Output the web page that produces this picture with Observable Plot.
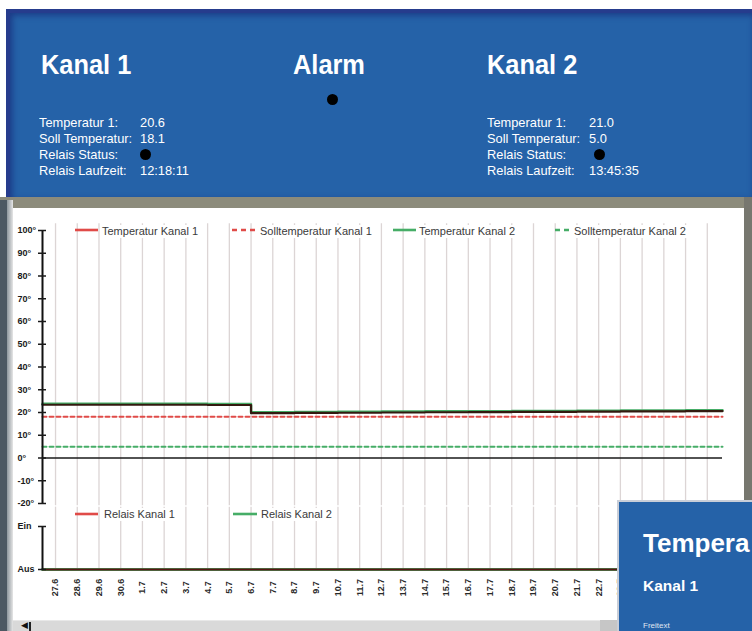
<!DOCTYPE html>
<html>
<head>
<meta charset="utf-8">
<script src="https://cdn.jsdelivr.net/npm/d3@7"></script>
<script src="https://cdn.jsdelivr.net/npm/@observablehq/plot@0.6"></script>
<style>
html, body { margin: 0; padding: 0; background: #fff; }
body { width: 752px; height: 631px; overflow: hidden; position: relative; font-family: "Liberation Sans", Arial, sans-serif; }
.abs { position: absolute; }
.hdr-title { position: absolute; color: #fff; font-weight: bold; font-size: 27px; line-height: 27px; transform: scaleX(0.94); transform-origin: left; white-space: nowrap; }
.hdr-row { position: absolute; color: #fff; font-size: 13.5px; line-height: 16px; transform: scaleX(0.95); transform-origin: left; white-space: nowrap; }
.dot { position: absolute; width: 11px; height: 11px; border-radius: 50%; background: #000; }
.leg-text { position: absolute; font-size: 11px; line-height: 13px; color: #3a3a3a; background: #fff; padding: 0 2px; white-space: nowrap; }
</style>
</head>
<body>
<script>
// ---------- data ----------
const dayLabels = ["27.6","28.6","29.6","30.6","1.7","2.7","3.7","4.7","5.7","6.7","7.7","8.7","9.7","10.7","11.7","12.7","13.7","14.7","15.7","16.7","17.7","18.7","19.7","20.7","21.7","22.7","23.7","24.7","25.7","26.7","27.7"];
const sampleTimes = [-0.6,0,1,2,3,4,5,6,7,8,9,10,11,12,13,14,15,16,17,18,19,20,21,22,23,24,25,26,27,28,29,30,30.7];
const tempKanal1 = [23.4,23.4,23.4,23.4,23.4,23.4,23.4,23.4,23.3,23.3,19.7,19.7,19.8,19.8,19.9,19.9,20.0,20.0,20.1,20.1,20.2,20.2,20.3,20.3,20.3,20.4,20.4,20.5,20.5,20.5,20.6,20.6,20.6];
const tempKanal2 = [23.8,23.8,23.8,23.8,23.8,23.8,23.8,23.8,23.7,23.7,20.1,20.1,20.2,20.2,20.3,20.3,20.4,20.4,20.5,20.5,20.6,20.6,20.7,20.7,20.7,20.8,20.8,20.9,20.9,20.9,21.0,21.0,21.0];
const sollTimes = [-0.6, 30.7];
const sollKanal1 = [18.1, 18.1];
const sollKanal2 = [5.0, 5.0];
const relaisTimes = [-0.6, 30.7];
const relaisKanal1 = [0, 0];
const relaisKanal2 = [0, 0];
const tempTicks = [100, 90, 80, 70, 60, 50, 40, 30, 20, 10, 0, -10, -20];
const relaisTicks = [0, 1];
const relaisTickLabels = ["Aus", "Ein"];
const headerTitles = ["Kanal 1", "Alarm", "Kanal 2"];
const headerLabels = ["Temperatur 1:", "Soll Temperatur:", "Relais Status:", "Relais Laufzeit:"];
const kanal1Values = ["20.6", "18.1", "", "12:18:11"];
const kanal2Values = ["21.0", "5.0", "", "13:45:35"];
const tempLegendLabels = ["Temperatur Kanal 1", "Solltemperatur Kanal 1", "Temperatur Kanal 2", "Solltemperatur Kanal 2"];
const relaisLegendLabels = ["Relais Kanal 1", "Relais Kanal 2"];
const overlayTexts = ["Tempera", "Kanal 1", "Freitext"];

// ---------- helpers ----------
const RED = "#e04b48", GREEN = "#46ad67", DARK = "#33190f";
function el(tag, cls, style, text) {
  const e = document.createElement(tag);
  if (cls) e.className = cls;
  Object.assign(e.style, style || {});
  if (text != null) e.textContent = text;
  document.body.appendChild(e);
  return e;
}
const tab = (ts, vs) => ts.map((t, i) => ({t, v: vs[i]}));

// ---------- background / frame ----------
el("div", "abs", {left: "6px", top: "9px", width: "746px", height: "189px", background: "#2562a8",
  borderLeft: "4px solid #263c8d", borderTop: "4px solid #263c8d", boxSizing: "border-box",
  boxShadow: "inset 2px 2px 6px rgba(20,30,110,0.6)"});
el("div", "abs", {left: "0px", top: "197px", width: "752px", height: "11px", background: "#8c8b7b"});
el("div", "abs", {left: "0px", top: "200px", width: "7px", height: "431px", background: "#4c5862"});
el("div", "abs", {left: "7px", top: "200px", width: "6px", height: "431px", background: "linear-gradient(to right,#8d969c,#e6e6e6)"});
el("div", "abs", {left: "744px", top: "197px", width: "8px", height: "434px", background: "#77776f"});
el("div", "abs", {left: "13px", top: "208px", width: "731px", height: "412px", background: "#fff"});

// ---------- header ----------
[41, 293, 487].forEach((x, i) => el("div", "hdr-title", {left: x + "px", top: "52px"}, headerTitles[i]));
el("div", "dot", {left: "327px", top: "94px"});
[[39, 140, kanal1Values, 139.5], [487, 589, kanal2Values, 594]].forEach(([lx, vx, vals, dx]) => {
  headerLabels.forEach((lab, r) => {
    const top = 114.8 + r * 16;
    el("div", "hdr-row", {left: lx + "px", top: top + "px"}, lab);
    if (vals[r]) el("div", "hdr-row", {left: vx + "px", top: top + "px"}, vals[r]);
  });
  el("div", "dot", {left: dx + "px", top: "148.5px"});
});

// ---------- charts ----------
const xDomain = [sampleTimes[0], sampleTimes[sampleTimes.length - 1]];
const dayIdx = dayLabels.map((d, i) => i);
const GRID = "#dcd5d5";

const topPlot = Plot.plot({
  width: 752, height: 300,
  marginLeft: 42, marginRight: 30, marginTop: 23, marginBottom: 4,
  style: {background: "transparent", overflow: "visible", fontFamily: "Liberation Sans, Arial, sans-serif"},
  x: {domain: xDomain, axis: null},
  y: {domain: [-20, 100]},
  marks: [
    Plot.ruleX(dayIdx, {x: d => d, y1: -21, y2: 103, stroke: GRID, strokeWidth: 1.3}),
    Plot.line(tab(sollTimes, sollKanal1), {x: "t", y: "v", stroke: RED, strokeWidth: 2, strokeDasharray: "4,3"}),
    Plot.line(tab(sollTimes, sollKanal2), {x: "t", y: "v", stroke: GREEN, strokeWidth: 2, strokeDasharray: "4,3"}),
    Plot.ruleY([0], {stroke: "#1a1a1a", strokeWidth: 1.5}),
    Plot.line(tab(sampleTimes, tempKanal2), {x: "t", y: "v", curve: "step-after", stroke: GREEN, strokeWidth: 2.5}),
    Plot.line(tab(sampleTimes, tempKanal1), {x: "t", y: "v", curve: "step-after", stroke: DARK, strokeWidth: 2.2}),
    Plot.ruleX([xDomain[0]], {y1: -20, y2: 100, stroke: "#111", strokeWidth: 2}),
    Plot.axisY({ticks: tempTicks, tickFormat: d => `${d}°`, tickSize: 8, dx: 4, tickPadding: 21, textAnchor: "start",
      fontSize: 9, fontWeight: "bold", color: "#1a1a1a", strokeWidth: 1.5, label: null})
  ]
});
Object.assign(topPlot.style, {position: "absolute", left: "0px", top: "207px"});
document.body.appendChild(topPlot);

const bottomPlot = Plot.plot({
  width: 752, height: 113,
  marginLeft: 42, marginRight: 30, marginTop: 19, marginBottom: 51,
  style: {background: "transparent", overflow: "visible", fontFamily: "Liberation Sans, Arial, sans-serif"},
  x: {domain: xDomain, axis: null},
  y: {domain: [0, 1]},
  marks: [
    Plot.ruleX(dayIdx, {x: d => d, y1: 0, y2: 1.45, stroke: GRID, strokeWidth: 1.3}),
    Plot.line(tab(relaisTimes, relaisKanal2), {x: "t", y: "v", curve: "step-after", stroke: GREEN, strokeWidth: 3}),
    Plot.line(tab(relaisTimes, relaisKanal1), {x: "t", y: "v", curve: "step-after", stroke: "#561612", strokeWidth: 2.2}),
    Plot.ruleX([xDomain[0]], {y1: 0, y2: 1, stroke: "#111", strokeWidth: 2}),
    Plot.axisY({ticks: relaisTicks, tickFormat: d => relaisTickLabels[d], tickSize: 8, dx: 4, tickPadding: 21, textAnchor: "start",
      fontSize: 9, fontWeight: "bold", color: "#1a1a1a", strokeWidth: 1.5, label: null}),
    Plot.text(dayIdx, {x: d => d, y: 0, text: d => dayLabels[d], rotate: -90, dy: 18, textAnchor: "middle", lineAnchor: "middle",
      fontSize: 9, fontWeight: "bold", fill: "#2a2a2a"})
  ]
});
Object.assign(bottomPlot.style, {position: "absolute", left: "0px", top: "507px"});
document.body.appendChild(bottomPlot);

// ---------- legends ----------
function legendItem(x0, x1, ly, tx, color, dash, label) {
  const ns = "http://www.w3.org/2000/svg";
  const svg = document.createElementNS(ns, "svg");
  svg.setAttribute("width", x1 - x0); svg.setAttribute("height", 6);
  Object.assign(svg.style, {position: "absolute", left: x0 + "px", top: (ly - 3) + "px"});
  const line = document.createElementNS(ns, "line");
  line.setAttribute("x1", 0); line.setAttribute("x2", x1 - x0); line.setAttribute("y1", 3); line.setAttribute("y2", 3);
  line.setAttribute("stroke", color); line.setAttribute("stroke-width", 2.6);
  if (dash) line.setAttribute("stroke-dasharray", dash);
  svg.appendChild(line);
  document.body.appendChild(svg);
  el("div", "leg-text", {left: (tx - 2) + "px", top: (ly - 5.5) + "px"}, label);
}
legendItem(75, 98, 230, 102, RED, null, tempLegendLabels[0]);
legendItem(232, 257, 230, 260, RED, "5,4", tempLegendLabels[1]);
legendItem(393, 416, 230, 419, GREEN, null, tempLegendLabels[2]);
legendItem(555, 571, 230, 574, GREEN, "5,4", tempLegendLabels[3]);
legendItem(75, 98, 513.5, 104, RED, null, relaisLegendLabels[0]);
legendItem(233, 257, 513.5, 261, GREEN, null, relaisLegendLabels[1]);

// ---------- scrollbar ----------
el("div", "abs", {left: "13px", top: "620px", width: "604px", height: "11px", background: "#d9d9d9", borderTop: "1px solid #e8e8e8", boxSizing: "border-box"});
el("div", "abs", {left: "600px", top: "620px", width: "17px", height: "11px", background: "#c6c6c6"});
el("div", "abs", {left: "21px", top: "620px", fontSize: "9px", lineHeight: "11px", color: "#111"}, "◀");
el("div", "abs", {left: "29px", top: "622px", width: "1.5px", height: "9px", background: "#222"});

// ---------- overlay panel ----------
const ov = el("div", "abs", {left: "617px", top: "500px", width: "140px", height: "140px", background: "#2562a8",
  borderLeft: "2px solid #c9ced8", borderTop: "2px solid #c9ced8", boxSizing: "border-box", overflow: "hidden", zIndex: 5});
function ovText(txt, style) {
  const d = document.createElement("div");
  Object.assign(d.style, {position: "absolute", color: "#fff", whiteSpace: "nowrap"}, style);
  d.textContent = txt; ov.appendChild(d);
}
ovText(overlayTexts[0], {left: "24px", top: "27.7px", fontSize: "26px", lineHeight: "26px", fontWeight: "bold"});
ovText(overlayTexts[1], {left: "24px", top: "76.3px", fontSize: "15.5px", lineHeight: "16px", fontWeight: "bold"});
ovText(overlayTexts[2], {left: "24px", top: "119px", fontSize: "8px", lineHeight: "9px", opacity: 0.85});
</script>
</body>
</html>
